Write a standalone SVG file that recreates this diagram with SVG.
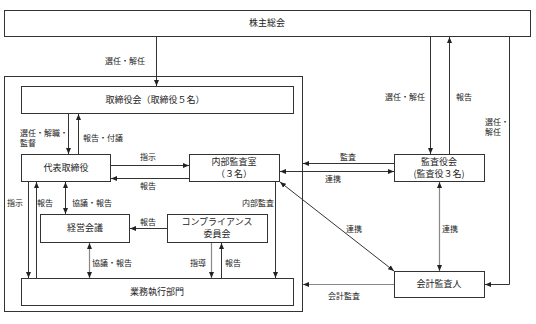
<svg xmlns="http://www.w3.org/2000/svg" width="536" height="324" viewBox="0 0 536 324">
<style>
.box{fill:#fff;stroke:#333;stroke-width:1}
.frame{fill:none;stroke:#333;stroke-width:1}
.ln{fill:none;stroke:#333;stroke-width:1}
.gl{fill:none;stroke:#888;stroke-width:1.2}
.t{font-family:"Noto Sans CJK JP","Noto Sans",sans-serif;font-size:9px;fill:#222;text-anchor:middle}
.l{font-family:"Noto Sans CJK JP","Noto Sans",sans-serif;font-size:8px;fill:#222}
.c{text-anchor:middle}
</style>
<defs>
<marker id="a" markerUnits="userSpaceOnUse" markerWidth="6" markerHeight="6" refX="6" refY="3" orient="auto-start-reverse">
<path d="M0,0.5 L6,3 L0,5.5 z" fill="#222"/>
</marker>
</defs>
<rect x="4.5" y="76.5" width="298" height="235" class="frame"/>
<g id="kabunushi"><rect x="4.5" y="10.5" width="526" height="26" class="box"/><text x="267" y="26" class="t">株主総会</text></g>
<g id="torishimariyakukai"><rect x="21.5" y="86.5" width="272" height="27" class="box"/><text x="155" y="103" class="t">取締役会（取締役５名）</text></g>
<g id="daihyo"><rect x="21.5" y="154.5" width="89" height="27" class="box"/><text x="66" y="171" class="t">代表取締役</text></g>
<g id="naibu"><rect x="189.5" y="154.5" width="90" height="27" class="box"/><text x="234" y="165" class="t">内部監査室</text><text x="234" y="177" class="t">（３名）</text></g>
<g id="kansayakukai"><rect x="394.5" y="154.5" width="90" height="27" class="box"/><text x="439" y="165" class="t">監査役会</text><text x="439" y="177" class="t">(監査役３名)</text></g>
<g id="keiei"><rect x="40.5" y="214.5" width="89" height="28" class="box"/><text x="85" y="231" class="t">経営会議</text></g>
<g id="compliance"><rect x="167.5" y="214.5" width="100" height="28" class="box"/><text x="217" y="225" class="t">コンプライアンス</text><text x="217" y="237" class="t">委員会</text></g>
<g id="gyomu"><rect x="21.5" y="278.5" width="272" height="27" class="box"/><text x="157" y="295" class="t">業務執行部門</text></g>
<g id="kaikei"><rect x="394.5" y="271.5" width="90" height="26" class="box"/><text x="439" y="287" class="t">会計監査人</text></g>
<g id="connectors">
<path d="M156.5,37 V86" class="ln" marker-end="url(#a)"/>
<path d="M430.5,37 V154" class="ln" marker-end="url(#a)"/>
<path d="M449.5,154 V37" class="ln" marker-end="url(#a)"/>
<path d="M509.5,37 V284.5 H485" class="ln" marker-end="url(#a)"/>
<path d="M68.5,114 V154" class="ln" marker-end="url(#a)"/>
<path d="M78.5,154 V114" class="ln" marker-end="url(#a)"/>
<path d="M111,165.5 H189" class="ln" marker-end="url(#a)"/>
<path d="M189,178.5 H111" class="ln" marker-end="url(#a)"/>
<path d="M394,163.5 H303" class="ln" marker-end="url(#a)"/>
<path d="M280,171.5 H394" class="ln" marker-start="url(#a)" marker-end="url(#a)"/>
<path d="M280,182 L394,271" class="ln" marker-start="url(#a)" marker-end="url(#a)"/>
<path d="M439.5,182 V271" class="gl" marker-start="url(#a)" marker-end="url(#a)"/>
<path d="M394,284.5 H303" class="gl" marker-end="url(#a)"/>
<path d="M28.5,182 V278" class="ln" marker-end="url(#a)"/>
<path d="M36.5,278 V182" class="ln" marker-end="url(#a)"/>
<path d="M65.5,182 V214" class="ln" marker-start="url(#a)" marker-end="url(#a)"/>
<path d="M89.5,243 V278" class="gl" marker-start="url(#a)" marker-end="url(#a)"/>
<path d="M167,228.5 H130" class="ln" marker-end="url(#a)"/>
<path d="M211.5,243 V278" class="gl" marker-end="url(#a)"/>
<path d="M221.5,278 V243" class="ln" marker-end="url(#a)"/>
<path d="M275.5,182 V278" class="ln" marker-end="url(#a)"/>
</g>
<g id="labels">
<text x="125" y="64" class="l c">選任・解任</text>
<text x="405" y="100" class="l c">選任・解任</text>
<text x="464" y="100" class="l c">報告</text>
<text x="485" y="125" class="l">選任・</text>
<text x="485" y="135" class="l">解任</text>
<text x="20" y="136" class="l">選任・解職・</text>
<text x="20" y="146" class="l">監督</text>
<text x="83" y="141" class="l">報告・付議</text>
<text x="148" y="160" class="l c">指示</text>
<text x="148" y="189" class="l c">報告</text>
<text x="348" y="160" class="l c">監査</text>
<text x="333" y="182" class="l c">連携</text>
<text x="354" y="232" class="l c">連携</text>
<text x="450" y="232" class="l c">連携</text>
<text x="344" y="299" class="l c">会計監査</text>
<text x="15" y="206" class="l c">指示</text>
<text x="45" y="206" class="l c">報告</text>
<text x="72" y="206" class="l">協議・報告</text>
<text x="258" y="206" class="l c">内部監査</text>
<text x="148" y="225" class="l c">報告</text>
<text x="92" y="266" class="l">協議・報告</text>
<text x="198" y="266" class="l c">指導</text>
<text x="233" y="266" class="l c">報告</text>
</g>
</svg>
